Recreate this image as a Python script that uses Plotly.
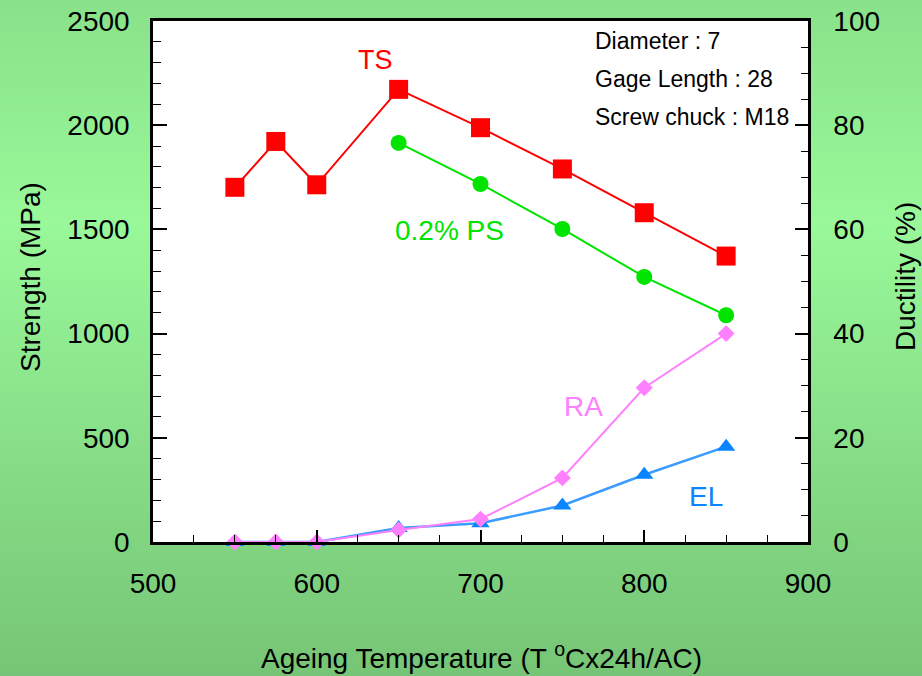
import plotly.graph_objects as go

# Ageing temperatures (deg C) and measured properties
temp_ts = [550, 575, 600, 650, 700, 750, 800, 850]
ts_mpa = [1702, 1922, 1714, 2172, 1988, 1790, 1580, 1372]

temp_ps = [650, 700, 750, 800, 850]
ps_mpa = [1915, 1718, 1502, 1272, 1088]

temp_duct = [550, 575, 600, 650, 700, 750, 800, 850]
ra_pct = [0, 0, 0, 2.3, 4.4, 12.3, 29.6, 40.0]
el_pct = [0, 0, 0, 2.7, 3.6, 7.0, 12.9, 18.3]

specimen_info = ["Diameter : 7", "Gage Length : 28", "Screw chuck : M18"]

W, H = 922, 676
L, R, T, B = 153, 114, 21, 134
PW, PH = W - L - R, H - T - B

RED = "#FF0000"
GREEN = "#00E400"
PINK = "#FF80FF"
BLUE = "#0A84FF"
BLUE_LINE = "#3A9CFF"
FONT = "Liberation Sans, Arial, sans-serif"

fig = go.Figure()

fig.add_trace(go.Scatter(
    x=temp_ts, y=ts_mpa, mode="lines+markers", name="TS",
    line=dict(color=RED, width=2),
    marker=dict(symbol="square", size=19, color=RED),
    cliponaxis=False, yaxis="y"))

fig.add_trace(go.Scatter(
    x=temp_ps, y=ps_mpa, mode="lines+markers", name="0.2% PS",
    line=dict(color=GREEN, width=2),
    marker=dict(symbol="circle", size=16, color=GREEN),
    cliponaxis=False, yaxis="y"))

fig.add_trace(go.Scatter(
    x=temp_duct, y=el_pct, mode="lines+markers", name="EL",
    line=dict(color=BLUE_LINE, width=2.5),
    marker=dict(symbol="triangle-up", size=16, color=BLUE),
    cliponaxis=False, yaxis="y2"))

fig.add_trace(go.Scatter(
    x=temp_duct, y=ra_pct, mode="lines+markers", name="RA",
    line=dict(color=PINK, width=2),
    marker=dict(symbol="diamond", size=13, color=PINK),
    cliponaxis=False, yaxis="y2"))


# vertical green gradient behind the whole figure
def lerp(c1, c2, t):
    return tuple(round(a + (b - a) * t) for a, b in zip(c1, c2))


stops = [(0.0, (137, 225, 137)), (0.33, (153, 248, 153)), (1.0, (118, 197, 118))]


def grad_color(f):
    for (f0, c0), (f1, c1) in zip(stops[:-1], stops[1:]):
        if f <= f1:
            return lerp(c0, c1, (f - f0) / (f1 - f0))
    return stops[-1][1]


shapes = []
step = 4
for py in range(0, H, step):
    c = grad_color((py + step / 2) / H)
    y_top = (H - B - py) / PH
    y_bot = (H - B - py - step) / PH
    shapes.append(dict(
        type="rect", xref="paper", yref="paper", layer="below",
        x0=-L / PW, x1=1 + R / PW, y0=y_bot - 0.002, y1=y_top + 0.002,
        fillcolor="rgb(%d,%d,%d)" % c, line=dict(width=0)))

# white plotting area
shapes.append(dict(type="rect", xref="paper", yref="paper", layer="below",
                   x0=0, x1=1, y0=0, y1=1, fillcolor="white",
                   line=dict(width=0)))


def px_to_paper(px, py):
    return (px - L) / PW, (H - B - py) / PH


annotations = [
    dict(text="TS", x=636, y=2313, xref="x", yref="y", showarrow=False,
         font=dict(color=RED, size=27, family=FONT)),
    dict(text="0.2% PS", x=681, y=1495, xref="x", yref="y", showarrow=False,
         font=dict(color=GREEN, size=28, family=FONT)),
    dict(text="RA", x=763, y=26.0, xref="x", yref="y2", showarrow=False,
         font=dict(color=PINK, size=28, family=FONT)),
    dict(text="EL", x=838, y=8.8, xref="x", yref="y2", showarrow=False,
         font=dict(color=BLUE, size=28, family=FONT)),
]

for text, (px, py), angle in [
    ("Strength (MPa)", (30, 277), -90),
    ("Ductility (%)", (905, 277), -90),
    ("Ageing Temperature (T <sup>o</sup>Cx24h/AC)", (481, 656), 0),
]:
    ax, ay = px_to_paper(px, py)
    annotations.append(dict(
        text=text, x=ax, y=ay, xref="paper", yref="paper", showarrow=False,
        xanchor="center", yanchor="middle", textangle=angle,
        font=dict(color="black", size=28, family=FONT)))

for i, line in enumerate(specimen_info):
    ax, ay = px_to_paper(593, 41 + i * 38)
    annotations.append(dict(
        text=line, x=ax, y=ay, xref="paper", yref="paper",
        xanchor="left", yanchor="middle", showarrow=False,
        font=dict(color="black", size=23, family=FONT)))

tick_font = dict(color="black", size=28, family=FONT)

fig.update_layout(
    width=W, height=H,
    margin=dict(l=L, r=R, t=T, b=B, pad=0),
    paper_bgcolor="rgb(145,235,145)",
    plot_bgcolor="rgba(0,0,0,0)",
    showlegend=False,
    shapes=shapes,
    annotations=annotations,
    xaxis=dict(
        range=[500, 900], tickmode="linear", tick0=500, dtick=100,
        ticks="inside", ticklen=12, tickwidth=1.5, tickcolor="black",
        minor=dict(dtick=25, ticks="inside", ticklen=7, tickwidth=1.2,
                   tickcolor="black"),
        showline=True, linecolor="black", linewidth=2.5, mirror=True,
        showgrid=False, zeroline=False, tickfont=tick_font,
        ticklabelstandoff=15, automargin=False),
    yaxis=dict(
        range=[0, 2500], tickmode="linear", tick0=0, dtick=500,
        ticks="inside", ticklen=14, tickwidth=1.5, tickcolor="black",
        minor=dict(dtick=100, ticks="inside", ticklen=8, tickwidth=1.2,
                   tickcolor="black"),
        showline=True, linecolor="black", linewidth=2.5,
        showgrid=False, zeroline=False, tickfont=tick_font,
        ticklabelstandoff=15, automargin=False),
    yaxis2=dict(
        range=[0, 100], tickmode="linear", tick0=0, dtick=20,
        overlaying="y", side="right",
        ticks="inside", ticklen=13, tickwidth=1.5, tickcolor="black",
        minor=dict(dtick=5, ticks="inside", ticklen=7, tickwidth=1.2,
                   tickcolor="black"),
        showline=True, linecolor="black", linewidth=2.5,
        showgrid=False, zeroline=False, tickfont=tick_font,
        ticklabelstandoff=17, automargin=False),
)

fig.write_html("out.html")
